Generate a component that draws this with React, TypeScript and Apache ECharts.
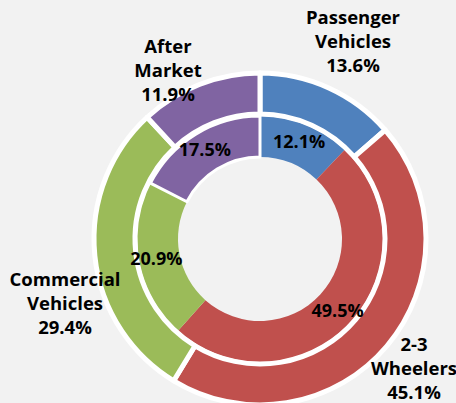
import React, { useEffect, useRef } from "react";
import * as echarts from "echarts";

const categories = ["Passenger\nVehicles", "2-3\nWheelers", "Commercial\nVehicles", "After\nMarket"];
const outerValues = [13.6, 45.1, 29.4, 11.9];
const innerValues = [12.1, 49.5, 20.9, 17.5];
const colors = ["#4F81BD", "#C0504D", "#9BBB59", "#8064A2"];

// label anchor points (pixel layout) for the outer ring labels
const outerLabelPos = [
  [353, 40],
  [414, 367],
  [65, 302],
  [168, 69],
];

const FONT = "'Open Sans', 'Liberation Sans', sans-serif";

export default function App() {
  const ref = useRef<HTMLDivElement>(null);
  useEffect(() => {
    if (!ref.current) return;
    const chart = echarts.init(ref.current, null, { renderer: "svg" });
    chart.setOption({
      animation: false,
      backgroundColor: "#F2F2F2",
      series: [
        {
          type: "pie",
          name: "inner",
          center: [260, 239],
          radius: [82, 123],
          startAngle: 90,
          clockwise: true,
          avoidLabelOverlap: false,
          label: {
            show: true,
            position: "inside",
            formatter: (p: any) => `${Number(p.value).toFixed(1)}%`,
            color: "#000",
            fontFamily: FONT,
            fontWeight: "bold",
            fontSize: 18,
          },
          labelLine: { show: false },
          data: categories.map((c, i) => ({
            name: c,
            value: innerValues[i],
            itemStyle: {
              color: colors[i],
              borderColor: "#FFFFFF",
              borderWidth: i === 3 ? 3 : 0,
            },
          })),
        },
        {
          type: "pie",
          name: "outer",
          center: [260, 239],
          radius: [125, 166],
          startAngle: 90,
          clockwise: true,
          avoidLabelOverlap: false,
          itemStyle: { borderColor: "#FFFFFF", borderWidth: 5 },
          label: {
            show: true,
            position: "outside",
            formatter: (p: any) => `${p.name}\n${Number(p.value).toFixed(1)}%`,
            color: "#000",
            fontFamily: FONT,
            fontWeight: "bold",
            fontSize: 18.5,
            lineHeight: 24,
            align: "center",
          },
          labelLine: { show: false },
          labelLayout: (params: any) => ({
            x: outerLabelPos[params.dataIndex][0],
            y: outerLabelPos[params.dataIndex][1],
            align: "center",
            verticalAlign: "middle",
          }),
          data: categories.map((c, i) => ({
            name: c,
            value: outerValues[i],
            itemStyle: { color: colors[i] },
          })),
        },
      ],
    });
    return () => chart.dispose();
  }, []);
  return (
    <div
      ref={ref}
      style={{ position: "fixed", left: 0, top: 0, width: 456, height: 403 }}
    />
  );
}
